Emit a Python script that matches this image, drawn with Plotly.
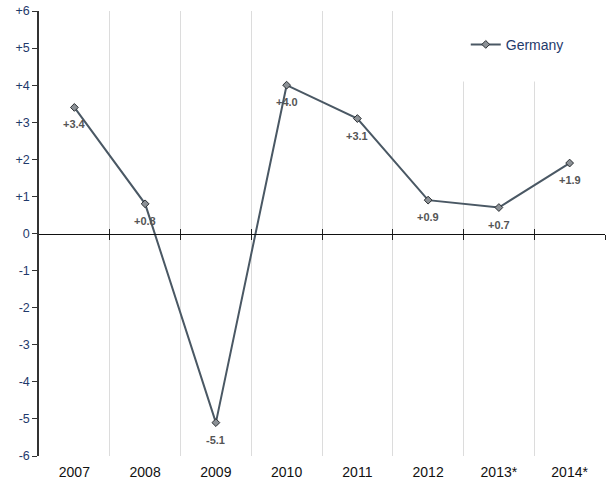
import plotly.graph_objects as go

years = ["2007", "2008", "2009", "2010", "2011", "2012", "2013*", "2014*"]
growth = [3.4, 0.8, -5.1, 4.0, 3.1, 0.9, 0.7, 1.9]
labels = ["+3.4", "+0.8", "-5.1", "+4.0", "+3.1", "+0.9", "+0.7", "+1.9"]
y_ticks = [6, 5, 4, 3, 2, 1, 0, -1, -2, -3, -4, -5, -6]
y_ticktext = ["+6", "+5", "+4", "+3", "+2", "+1", "0", "-1", "-2", "-3", "-4", "-5", "-6"]

idx = list(range(len(years)))
bounds = [i + 0.5 for i in idx]
FONT = "Liberation Sans"

fig = go.Figure()
fig.add_trace(go.Scatter(
    x=idx, y=growth, mode="lines+markers", name="Germany",
    line=dict(color="#4a5864", width=2),
    marker=dict(symbol="diamond", size=6, color="#8c9196", line=dict(color="#2b2f33", width=1)),
    cliponaxis=False,
))
fig.add_trace(go.Scatter(x=[], y=[], xaxis="x2", showlegend=False, hoverinfo="skip"))
fig.add_trace(go.Scatter(x=[], y=[], xaxis="x3", showlegend=False, hoverinfo="skip"))

annotations = [
    dict(x=xv, y=yv, xref="x", yref="y", text="<b>%s</b>" % t, showarrow=False,
         yshift=-17, font=dict(family=FONT, size=11, color="#555555"))
    for xv, yv, t in zip(idx, growth, labels)
]

rng = [-0.5, len(years) - 0.5]
fig.update_layout(
    width=609, height=484,
    margin=dict(l=39, r=4, t=11, b=28),
    paper_bgcolor="white", plot_bgcolor="white",
    font=dict(family=FONT),
    showlegend=True,
    xaxis=dict(range=rng, tickvals=idx, ticktext=years, showgrid=False, zeroline=False,
               ticks="", showline=False, automargin=False, ticklabelstandoff=6,
               tickfont=dict(family=FONT, size=14, color="#111111")),
    xaxis2=dict(range=rng, overlaying="x", anchor="free", position=0.5, side="bottom",
                tickvals=bounds, showticklabels=False, ticks="outside", ticklen=5,
                tickcolor="#222222", showline=True, linecolor="#111111", linewidth=1,
                showgrid=True, gridcolor="#dcdcdc", gridwidth=1, zeroline=False,
                automargin=False),
    xaxis3=dict(range=rng, overlaying="x", anchor="free", position=0.5, side="bottom",
                tickvals=bounds, showticklabels=False, ticks="inside", ticklen=5,
                tickcolor="#222222", showline=False, showgrid=False, zeroline=False,
                automargin=False),
    yaxis=dict(range=[-6, 6], tickvals=y_ticks, ticktext=y_ticktext, showgrid=False,
               zeroline=False, showline=True, linecolor="#333333", linewidth=1.5,
               ticks="outside", ticklen=5, tickcolor="#333333", automargin=False,
               ticklabeloverflow="allow",
               tickfont=dict(family=FONT, size=12.5, color="#1f3a6b")),
    legend=dict(x=0.754, y=0.924, xanchor="left", yanchor="middle",
                bgcolor="rgba(0,0,0,0)", font=dict(family=FONT, size=14, color="#1f3a6b")),
    annotations=annotations,
    shapes=[dict(type="rect", xref="x", yref="y", x0=5.3, x1=7.4, y0=4.1, y1=6,
                 fillcolor="white", line=dict(width=0), layer="between")],
)

fig.write_html(
    "out.html",
    config={"displayModeBar": False},
    post_script="document.body.style.margin='0';document.body.style.overflow='hidden';",
)
